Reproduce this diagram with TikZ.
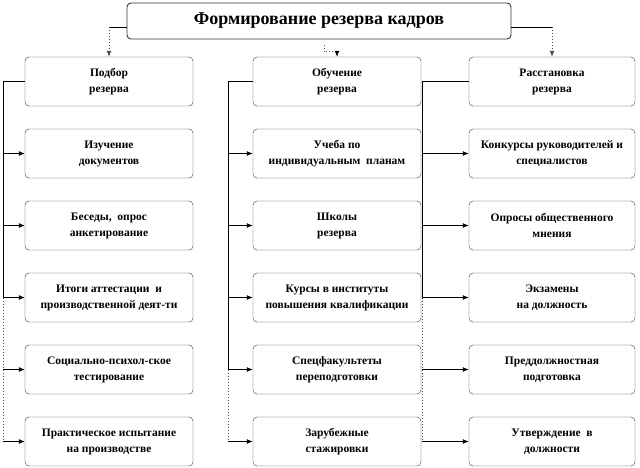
\documentclass[tikz,border=0pt]{standalone}
\usepackage{fontspec}
\setmainfont{Liberation Serif}
\usetikzlibrary{arrows.meta}

\tikzset{
  box/.style={draw=black!80, rounded corners=4pt, minimum width=168pt,
    minimum height=49pt, inner sep=0pt, align=center,
    font=\bfseries\fontsize{11.5}{16}\selectfont},
  rbox/.style={box, minimum width=166pt},
  link/.style={black, line width=0.9pt},
  dotlink/.style={black!70, line width=1pt, dotted},
  arr/.style={link, -{Latex[length=6pt,width=5pt]}},
  dotarr/.style={dotlink, -{Latex[length=6pt,width=5pt]}},
}

\begin{document}
\begin{tikzpicture}[x=1pt, y=-1pt]
  \useasboundingbox (0,0) rectangle (640,468);
  % head block
  \node[box, minimum width=384pt, minimum height=36pt, line width=0.9pt,
    font=\bfseries\fontsize{18}{20}\selectfont] (top) at (319,21)
    {Формирование резерва кадров};
  % first row
  \node[box] (p1) at (109,81.5) {Подбор\\резерва};
  \node[box] (m1) at (337,81.5) {Обучение\\резерва};
  \node[rbox] (r1) at (552,81.5) {Расстановка\\резерва};
  % left column
  \node[box] (p2) at (109,153.5) {Изучение\\документов};
  \node[box] (p3) at (109,225.5) {Беседы,\ \ опрос\\анкетирование};
  \node[box] (p4) at (109,297.5) {Итоги аттестации\ \ и\\производственной деят-ти};
  \node[box] (p5) at (109,369.5) {Социально-психол-ское\\тестирование};
  \node[box] (p6) at (109,441.5) {Практическое испытание\\на производстве};
  % middle column
  \node[box] (m2) at (337,153.5) {Учеба по\\индивидуальным\ \ планам};
  \node[box] (m3) at (337,225.5) {Школы\\резерва};
  \node[box] (m4) at (337,297.5) {Курсы в институты\\повышения квалификации};
  \node[box] (m5) at (337,369.5) {Спецфакультеты\\переподготовки};
  \node[box] (m6) at (337,441.5) {Зарубежные\\стажировки};
  % right column
  \node[rbox] (r2) at (552,153.5) {Конкурсы руководителей и\\специалистов};
  \node[rbox] (r3) at (552,225.5) {Опросы общественного\\мнения};
  \node[rbox] (r4) at (552,297.5) {Экзамены\\на должность};
  \node[rbox] (r5) at (552,369.5) {Преддолжностная\\подготовка};
  \node[rbox] (r6) at (552,441.5) {Утверждение\ \ в\\должности};

  % links from the head block
  \coordinate (tl) at (109,27);
  \coordinate (tr) at (552,27);
  \coordinate (tm) at (324,45);
  \coordinate (tm2) at (337,52);
  \draw[link] (top.west |- tl) -- (tl);
  \draw[dotarr] (tl) -- (p1.north);
  \draw[link] (top.east |- tr) -- (tr);
  \draw[dotarr] (tr) -- (r1.north);
  \draw[dotlink] (tm) |- (tm2);
  \draw[arr] (tm2) -- (m1.north);

  % trunks
  \coordinate (lm) at (3,297.5);
  \coordinate (lb) at (3,441.5);
  \coordinate (mm) at (228,369.5);
  \coordinate (mb) at (228,441.5);
  \coordinate (rm) at (422,297.5);
  \coordinate (rb) at (422,441.5);
  \draw[link] (p1.west) -| (lm);
  \draw[dotlink] (lm) -- (lb);
  \draw[link] (m1.west) -| (mm);
  \draw[dotlink] (mm) -- (mb);
  \draw[link] (r1.west) -| (rm);
  \draw[dotlink] (rm) -- (rb);
  \foreach \i in {2,...,6} {
    \draw[arr] (lb |- p\i.west) -- (p\i.west);
    \draw[arr] (mb |- m\i.west) -- (m\i.west);
    \draw[arr] (rb |- r\i.west) -- (r\i.west);
  }
\end{tikzpicture}
\end{document}
